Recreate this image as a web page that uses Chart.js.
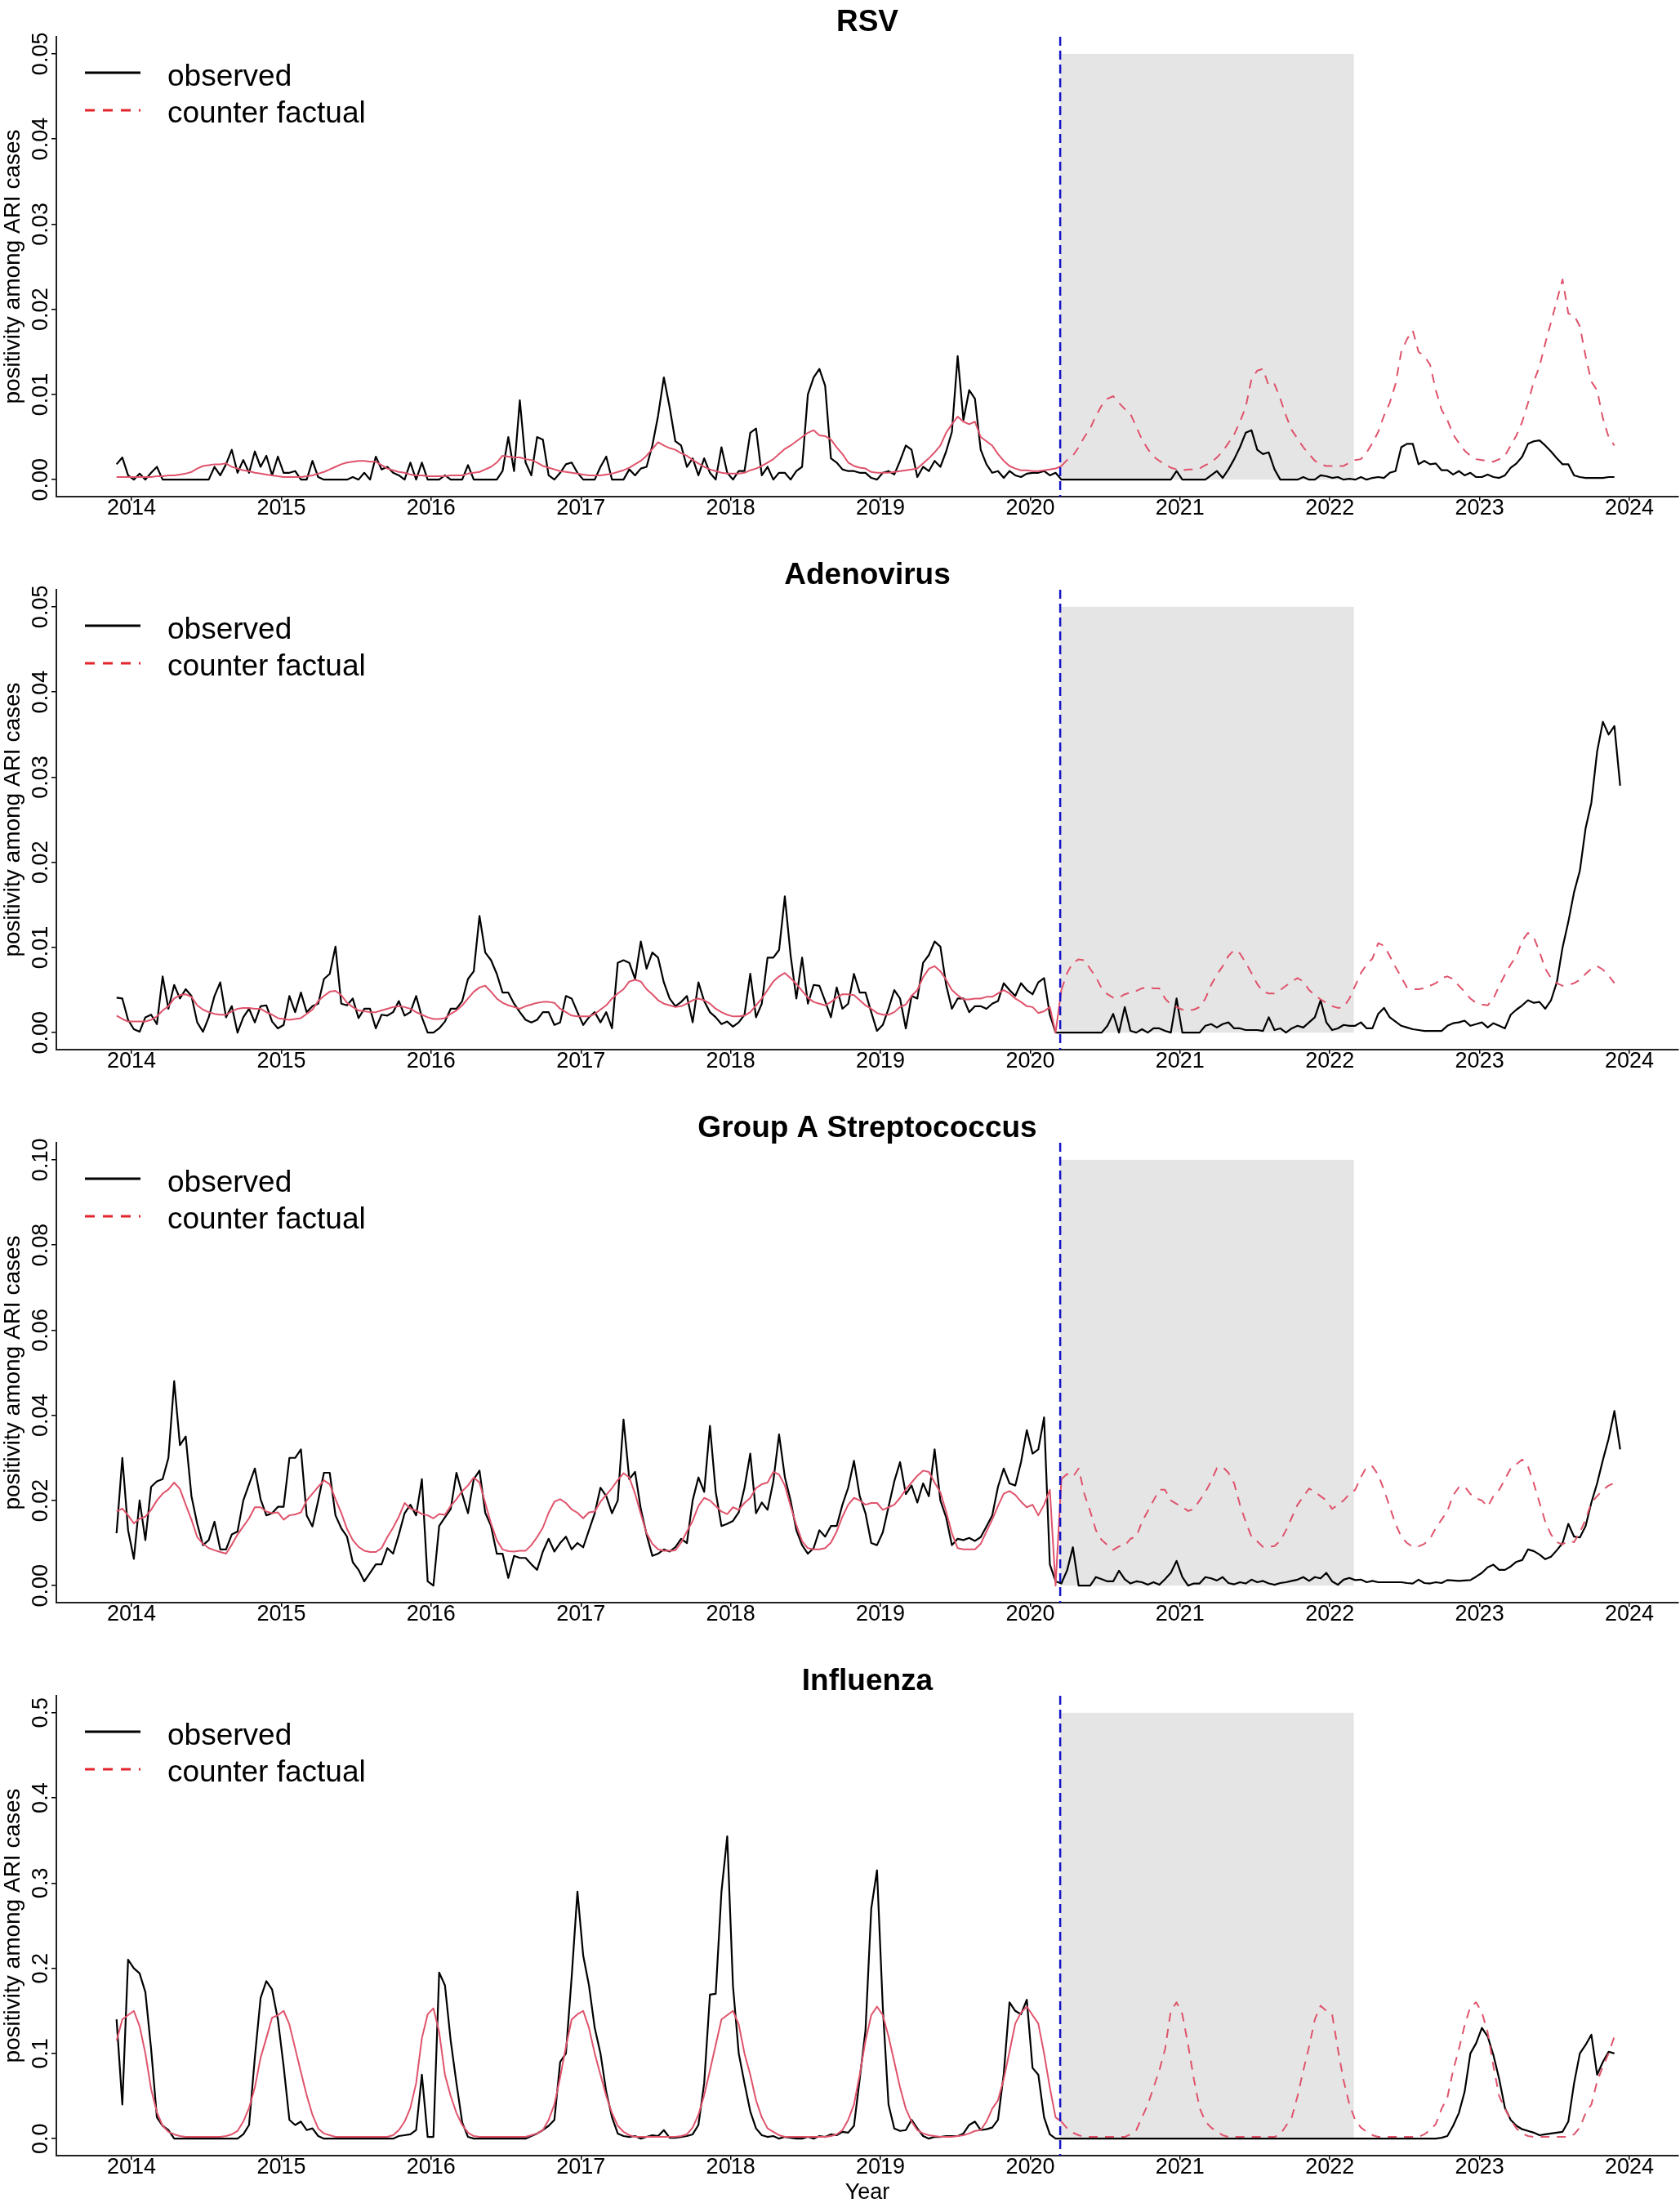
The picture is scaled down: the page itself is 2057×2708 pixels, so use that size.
<!DOCTYPE html>
<html>
<head>
<meta charset="utf-8">
<script src="https://cdn.jsdelivr.net/npm/chart.js@4.4.1/dist/chart.umd.min.js"></script>
<style>
  html, body { margin: 0; padding: 0; background: #fff; }
  #wrap { width: 2057px; height: 2708px; }
  canvas { display: block; }
</style>
</head>
<body>
<div id="wrap">
  <canvas id="c0" width="2057" height="677"></canvas>
  <canvas id="c1" width="2057" height="677"></canvas>
  <canvas id="c2" width="2057" height="677"></canvas>
  <canvas id="c3" width="2057" height="677"></canvas>
</div>
<script>
const startYear = 2013.9;
const step = 1 / 26;
const interventionStart = 2020.2;
const interventionEnd = 2022.16;
const xTicks = [2014, 2015, 2016, 2017, 2018, 2019, 2020, 2021, 2022, 2023, 2024];

const rsvObserved = [
  0.0018,0.0026,0.0005,0,0.0007,0,0.0008,0.0015,0,0,0,0,0,0,0,0,0,0.0015,0.0005,0.0018,0.0035,0.0008,0.0023,0.0008,0.0033,0.0015,
  0.0028,0.0005,0.0027,0.0008,0.0008,0.0010,0,0,0.0022,0.0003,0,0,0,0,0,0.0003,0,0.0008,0,0.0027,0.0012,0.0015,0.0008,0.0005,0,0.0020,
  0,0.0020,0,0,0,0.0005,0,0,0,0.0017,0,0,0,0,0,0.0010,0.0050,0.0010,0.0093,0.0020,0.0005,0.0050,0.0047,0.0005,0,0.0008,
  0.0018,0.0020,0.0008,0,0,0,0.0015,0.0027,0,0,0,0.0012,0.0005,0.0013,0.0015,0.0040,0.0075,0.0120,0.0085,0.0045,0.0040,0.0015,0.0025,0.0005,0.0025,0.0008,
  0,0.0038,0.0008,0,0.0010,0.0010,0.0055,0.0060,0.0005,0.0015,0,0.0008,0.0008,0,0.0010,0.0015,0.0100,0.0120,0.0130,0.0110,0.0025,0.0020,0.0012,0.0010,0.0010,0.0008,
  0.0008,0.0002,0,0.0008,0.0010,0.0006,0.0022,0.0040,0.0035,0.0003,0.0015,0.0010,0.0022,0.0015,0.0033,0.0056,0.0145,0.0070,0.0105,0.0095,0.0035,0.0018,0.0008,0.0010,0.0002,0.0010,
  0.0005,0.0003,0.0007,0.0008,0.0008,0.0010,0.0005,0.0008,0,0,0,0,0,0,0,0,0,0,0,0,0,0,0,0,0,0,
  0,0,0.0010,0,0,0,0,0,0.0005,0.0010,0.0002,0.0012,0.0024,0.0038,0.0055,0.0058,0.0035,0.0030,0.0032,0.0012,0,0,0,0,0.0003,0,
  0,0.0005,0.0004,0.0002,0.0003,0,0.0001,0,0.0003,0,0.0002,0.0003,0.0002,0.0008,0.0010,0.0038,0.0042,0.0042,0.0018,0.0022,0.0018,0.0019,0.0011,0.0011,0.0006,0.0010,
  0.0005,0.0008,0.0003,0.0003,0.0006,0.0003,0.0002,0.0005,0.0014,0.0019,0.0027,0.0042,0.0045,0.0046,0.0040,0.0033,0.0025,0.0018,0.0018,0.0005,0.0003,0.0002,0.0002,0.0002,0.0002,0.0003,
  0.0003
];
const rsvCounterfactual = [
  0.0003,0.0003,0.0003,0.0003,0.0003,0.0003,0.0003,0.0004,0.0004,0.0005,0.0005,0.0006,0.0007,0.0009,0.0013,0.0016,0.0017,0.0018,0.0018,0.0019,0.0015,0.0013,0.0011,0.0010,0.0008,0.0007,
  0.0006,0.0005,0.0004,0.0003,0.0003,0.0003,0.0003,0.0004,0.0005,0.0007,0.0009,0.0012,0.0015,0.0018,0.0020,0.0021,0.0022,0.0022,0.0021,0.0021,0.0017,0.0013,0.0011,0.0009,0.0008,0.0006,
  0.0005,0.0005,0.0004,0.0004,0.0004,0.0004,0.0005,0.0005,0.0005,0.0007,0.0008,0.0009,0.0012,0.0015,0.0020,0.0028,0.0027,0.0026,0.0026,0.0024,0.0023,0.0020,0.0016,0.0014,0.0012,0.0010,
  0.0009,0.0008,0.0007,0.0006,0.0005,0.0005,0.0005,0.0006,0.0007,0.0009,0.0011,0.0014,0.0018,0.0022,0.0028,0.0036,0.0044,0.0040,0.0037,0.0035,0.0031,0.0028,0.0023,0.0019,0.0015,0.0012,
  0.0010,0.0008,0.0007,0.0007,0.0007,0.0008,0.0011,0.0013,0.0016,0.0020,0.0024,0.0030,0.0036,0.0040,0.0045,0.0050,0.0055,0.0058,0.0052,0.0051,0.0047,0.0038,0.0030,0.0020,0.0016,0.0014,
  0.0013,0.0009,0.0008,0.0008,0.0008,0.0009,0.0010,0.0011,0.0012,0.0013,0.0019,0.0025,0.0032,0.0040,0.0055,0.0065,0.0074,0.0068,0.0065,0.0068,0.0050,0.0045,0.0040,0.0030,0.0022,0.0016,
  0.0013,0.0011,0.0011,0.0010,0.0010,0.0011,0.0012,0.0013,0.0016,0.0023,0.0028,0.0038,0.0050,0.0060,0.0075,0.0087,0.0095,0.0098,0.0090,0.0083,0.0077,0.0062,0.0047,0.0036,0.0027,0.0022,
  0.0018,0.0014,0.0012,0.0011,0.0012,0.0012,0.0013,0.0017,0.0020,0.0026,0.0033,0.0043,0.0053,0.0068,0.0085,0.0118,0.0128,0.0130,0.0110,0.0112,0.0095,0.0075,0.0058,0.0048,0.0038,0.0030,
  0.0022,0.0018,0.0016,0.0016,0.0016,0.0016,0.0020,0.0023,0.0024,0.0032,0.0043,0.0056,0.0075,0.0090,0.0112,0.0150,0.0165,0.0175,0.0150,0.0145,0.0135,0.0105,0.0082,0.0070,0.0053,0.0043,
  0.0034,0.0028,0.0024,0.0023,0.0022,0.0021,0.0024,0.0028,0.0040,0.0052,0.0068,0.0090,0.0115,0.0133,0.0160,0.0185,0.0210,0.0235,0.0195,0.0193,0.0180,0.0145,0.0115,0.0105,0.0072,0.0050,
  0.0040
];

const adenoObserved = [
  0.0041,0.0040,0.0015,0.0004,0.0001,0.0018,0.0021,0.0010,0.0066,0.0028,0.0056,0.0040,0.0051,0.0043,0.0012,0.0001,0.0018,0.0043,0.0059,0.0018,0.0031,0,0.0018,0.0028,0.0012,0.0031,
  0.0032,0.0013,0.0005,0.0009,0.0043,0.0024,0.0047,0.0024,0.0031,0.0034,0.0063,0.0069,0.0101,0.0034,0.0032,0.0040,0.0017,0.0028,0.0028,0.0005,0.0021,0.0020,0.0024,0.0037,0.0020,0.0024,
  0.0043,0.0018,0,0,0.0005,0.0013,0.0028,0.0028,0.0037,0.0063,0.0072,0.0137,0.0094,0.0085,0.0069,0.0047,0.0047,0.0034,0.0024,0.0015,0.0012,0.0015,0.0024,0.0024,0.0009,0.0012,
  0.0043,0.0040,0.0024,0.0009,0.0018,0.0024,0.0012,0.0024,0.0005,0.0082,0.0085,0.0082,0.0063,0.0107,0.0075,0.0094,0.0088,0.0059,0.0040,0.0031,0.0036,0.0043,0.0012,0.0059,0.0037,0.0024,
  0.0018,0.0010,0.0013,0.0007,0.0012,0.0021,0.0069,0.0018,0.0034,0.0088,0.0088,0.0097,0.0160,0.0091,0.0040,0.0088,0.0034,0.0056,0.0055,0.0037,0.0018,0.0053,0.0028,0.0034,0.0069,0.0047,
  0.0047,0.0024,0.0002,0.0009,0.0028,0.0050,0.0040,0.0005,0.0043,0.0040,0.0082,0.0091,0.0107,0.0101,0.0056,0.0028,0.0040,0.0040,0.0024,0.0031,0.0031,0.0028,0.0034,0.0037,0.0058,0.0050,
  0.0043,0.0058,0.0050,0.0045,0.0059,0.0064,0.0021,0,0,0,0,0,0,0,0,0,0.0008,0.0022,0,0.0030,0.0002,0,0.0004,0,0.0005,0.0005,
  0.0002,0,0.0040,0,0,0,0,0.0008,0.0010,0.0006,0.0010,0.0012,0.0005,0.0005,0.0003,0.0003,0.0003,0.0002,0.0018,0.0003,0.0005,0,0.0005,0.0008,0.0006,0.0012,
  0.0018,0.0038,0.0012,0.0003,0.0005,0.0009,0.0008,0.0008,0.0012,0.0005,0.0005,0.0022,0.0029,0.0018,0.0013,0.0008,0.0006,0.0004,0.0003,0.0002,0.0002,0.0002,0.0002,0.0008,0.0011,0.0012,
  0.0014,0.0008,0.0010,0.0012,0.0006,0.0011,0.0008,0.0005,0.0021,0.0027,0.0032,0.0038,0.0035,0.0036,0.0028,0.0038,0.0059,0.0100,0.0130,0.0165,0.0190,0.0240,0.0270,0.0330,0.0365,0.0350,
  0.0360,0.0290
];
const adenoCounterfactual = [
  0.0020,0.0016,0.0013,0.0013,0.0013,0.0013,0.0015,0.0019,0.0026,0.0031,0.0040,0.0044,0.0045,0.0042,0.0032,0.0027,0.0024,0.0022,0.0021,0.0021,0.0025,0.0028,0.0029,0.0029,0.0028,0.0028,
  0.0024,0.0021,0.0017,0.0016,0.0015,0.0016,0.0017,0.0022,0.0027,0.0037,0.0043,0.0048,0.0049,0.0044,0.0035,0.0030,0.0026,0.0025,0.0024,0.0024,0.0026,0.0028,0.0030,0.0031,0.0030,0.0028,
  0.0024,0.0021,0.0018,0.0016,0.0016,0.0017,0.0022,0.0026,0.0032,0.0040,0.0048,0.0053,0.0055,0.0048,0.0040,0.0035,0.0032,0.0030,0.0028,0.0031,0.0033,0.0035,0.0036,0.0036,0.0035,0.0028,
  0.0024,0.0020,0.0019,0.0019,0.0019,0.0022,0.0027,0.0032,0.0040,0.0046,0.0051,0.0060,0.0062,0.0060,0.0051,0.0045,0.0038,0.0034,0.0032,0.0030,0.0031,0.0034,0.0038,0.0040,0.0038,0.0034,
  0.0028,0.0024,0.0021,0.0019,0.0019,0.0020,0.0024,0.0032,0.0040,0.0050,0.0060,0.0066,0.0070,0.0064,0.0057,0.0049,0.0041,0.0036,0.0034,0.0032,0.0036,0.0041,0.0045,0.0045,0.0044,0.0038,
  0.0032,0.0028,0.0023,0.0021,0.0021,0.0024,0.0030,0.0033,0.0043,0.0050,0.0065,0.0075,0.0078,0.0072,0.0062,0.0050,0.0044,0.0039,0.0039,0.0040,0.0040,0.0042,0.0042,0.0046,0.0050,0.0046,
  0.0040,0.0036,0.0031,0.0030,0.0023,0.0025,0.0030,0,0.0050,0.0070,0.0082,0.0086,0.0085,0.0075,0.0065,0.0052,0.0045,0.0041,0.0041,0.0045,0.0047,0.0049,0.0052,0.0053,0.0052,0.0052,
  0.0040,0.0033,0.0030,0.0027,0.0026,0.0027,0.0030,0.0040,0.0056,0.0068,0.0078,0.0090,0.0097,0.0093,0.0082,0.0070,0.0057,0.0048,0.0046,0.0046,0.0050,0.0055,0.0060,0.0064,0.0060,0.0050,
  0.0044,0.0039,0.0035,0.0031,0.0029,0.0030,0.0040,0.0055,0.0070,0.0080,0.0087,0.0105,0.0102,0.0090,0.0077,0.0065,0.0053,0.0051,0.0051,0.0052,0.0055,0.0058,0.0064,0.0066,0.0063,0.0055,
  0.0048,0.0040,0.0035,0.0033,0.0032,0.0040,0.0055,0.0068,0.0080,0.0090,0.0108,0.0117,0.0112,0.0095,0.0075,0.0064,0.0058,0.0055,0.0056,0.0058,0.0062,0.0069,0.0075,0.0078,0.0074,0.0067,
  0.0058
];

const gasObserved = [
  0.0123,0.0300,0.0130,0.0063,0.0200,0.0107,0.0232,0.0245,0.0250,0.0300,0.0480,0.0330,0.0350,0.0210,0.0145,0.0095,0.0107,0.0150,0.0085,0.0085,0.0120,0.0127,0.0200,0.0238,0.0275,0.0203,
  0.0165,0.0170,0.0185,0.0185,0.0300,0.0300,0.0320,0.0165,0.0139,0.0200,0.0265,0.0265,0.0165,0.0135,0.0115,0.0055,0.0037,0.0010,0.0030,0.0050,0.0050,0.0088,0.0075,0.0120,0.0170,0.0190,
  0.0165,0.0250,0.0010,0,0.0140,0.0160,0.0180,0.0265,0.0215,0.0170,0.0250,0.0270,0.0171,0.0140,0.0075,0.0075,0.0018,0.0070,0.0065,0.0065,0.0050,0.0037,0.0080,0.0110,0.0080,0.0100,
  0.0115,0.0085,0.0100,0.0090,0.0130,0.0170,0.0230,0.0210,0.0170,0.0200,0.0390,0.0250,0.0267,0.0180,0.0120,0.0070,0.0075,0.0085,0.0080,0.0090,0.0110,0.0100,0.0200,0.0254,0.0220,0.0375,
  0.0220,0.0140,0.0145,0.0152,0.0172,0.0230,0.0310,0.0170,0.0195,0.0178,0.0245,0.0355,0.0255,0.0200,0.0130,0.0095,0.0075,0.0088,0.0130,0.0115,0.0140,0.0140,0.0190,0.0230,0.0293,0.0210,
  0.0170,0.0100,0.0095,0.0125,0.0185,0.0245,0.0290,0.0215,0.0235,0.0195,0.0240,0.0210,0.0320,0.0200,0.0160,0.0095,0.0110,0.0107,0.0112,0.0105,0.0114,0.0139,0.0165,0.0232,0.0275,0.0240,
  0.0235,0.0290,0.0365,0.0310,0.0320,0.0395,0.0050,0.0010,0.0005,0.0036,0.0090,0,0,0,0.0020,0.0015,0.0010,0.0010,0.0035,0.0015,0.0005,0.0010,0.0008,0.0002,0.0008,0.0002,
  0.0015,0.0030,0.0058,0.0020,0,0.0005,0.0005,0.0020,0.0017,0.0012,0.0020,0.0006,0.0003,0.0008,0.0005,0.0014,0.0008,0.0011,0.0005,0.0002,0.0006,0.0008,0.0011,0.0014,0.0020,0.0011,
  0.0020,0.0017,0.0030,0.0010,0.0002,0.0014,0.0018,0.0013,0.0014,0.0008,0.0011,0.0008,0.0008,0.0008,0.0008,0.0008,0.0006,0.0005,0.0014,0.0006,0.0005,0.0008,0.0006,0.0013,0.0012,0.0011,
  0.0012,0.0013,0.0021,0.0030,0.0043,0.0049,0.0037,0.0037,0.0045,0.0056,0.0060,0.0085,0.0081,0.0073,0.0062,0.0068,0.0083,0.0100,0.0145,0.0115,0.0113,0.0140,0.0195,0.0240,0.0295,0.0345,
  0.0410,0.0320
];
const gasCounterfactual = [
  0.0174,0.0181,0.0165,0.0146,0.0157,0.0162,0.0178,0.0200,0.0216,0.0226,0.0242,0.0227,0.0190,0.0155,0.0114,0.0098,0.0088,0.0083,0.0079,0.0075,0.0096,0.0120,0.0139,0.0158,0.0184,0.0184,
  0.0174,0.0170,0.0172,0.0155,0.0165,0.0167,0.0172,0.0200,0.0216,0.0232,0.0247,0.0238,0.0203,0.0171,0.0133,0.0107,0.0091,0.0082,0.0079,0.0079,0.0088,0.0114,0.0136,0.0162,0.0194,0.0181,
  0.0176,0.0168,0.0165,0.0158,0.0168,0.0166,0.0187,0.0203,0.0222,0.0235,0.0254,0.0242,0.0194,0.0146,0.0107,0.0085,0.0081,0.0080,0.0082,0.0082,0.0095,0.0114,0.0136,0.0171,0.0197,0.0203,
  0.0194,0.0179,0.0171,0.0158,0.0172,0.0174,0.0197,0.0213,0.0229,0.0248,0.0264,0.0254,0.0216,0.0168,0.0123,0.0098,0.0085,0.0082,0.0082,0.0083,0.0101,0.0127,0.0152,0.0187,0.0206,0.0200,
  0.0187,0.0174,0.0168,0.0184,0.0178,0.0194,0.0206,0.0229,0.0238,0.0242,0.0267,0.0261,0.0235,0.0187,0.0142,0.0104,0.0088,0.0085,0.0085,0.0088,0.0101,0.0127,0.0162,0.0190,0.0206,0.0200,
  0.0190,0.0194,0.0194,0.0178,0.0184,0.0190,0.0206,0.0226,0.0242,0.0258,0.0270,0.0267,0.0242,0.0219,0.0174,0.0123,0.0088,0.0085,0.0085,0.0085,0.0098,0.0127,0.0155,0.0187,0.0216,0.0222,
  0.0213,0.0197,0.0184,0.0190,0.0165,0.0190,0.0225,0,0.0250,0.0262,0.0255,0.0275,0.0215,0.0175,0.0130,0.0107,0.0095,0.0084,0.0092,0.0094,0.0110,0.0115,0.0150,0.0175,0.0200,0.0225,
  0.0225,0.0200,0.0192,0.0185,0.0175,0.0180,0.0200,0.0220,0.0245,0.0276,0.0279,0.0265,0.0240,0.0190,0.0150,0.0115,0.0104,0.0091,0.0091,0.0093,0.0105,0.0130,0.0160,0.0190,0.0209,0.0228,
  0.0220,0.0210,0.0200,0.0180,0.0190,0.0200,0.0215,0.0225,0.0255,0.0279,0.0280,0.0260,0.0225,0.0185,0.0145,0.0115,0.0100,0.0091,0.0092,0.0098,0.0110,0.0135,0.0155,0.0175,0.0212,0.0231,
  0.0233,0.0215,0.0205,0.0200,0.0185,0.0210,0.0225,0.0250,0.0275,0.0285,0.0296,0.0280,0.0240,0.0195,0.0150,0.0120,0.0102,0.0097,0.0105,0.0102,0.0125,0.0155,0.0195,0.0210,0.0225,0.0235,
  0.0241
];

const fluObserved = [
  0.140,0.040,0.210,0.200,0.194,0.172,0.105,0.025,0.015,0.010,0,0,0,0,0,0,0,0,0,0,0,0,0.005,0.016,0.095,0.165,
  0.185,0.175,0.140,0.085,0.022,0.016,0.020,0.010,0.012,0.003,0,0,0,0,0,0,0,0,0,0,0,0,0,0.003,0.004,0.005,
  0.010,0.075,0.002,0.002,0.195,0.180,0.115,0.065,0.019,0.002,0,0,0,0,0,0,0,0,0,0,0.003,0.006,0.010,0.015,0.022,0.090,
  0.100,0.190,0.290,0.215,0.180,0.130,0.100,0.055,0.025,0.006,0.003,0.002,0.003,0,0.002,0.004,0.003,0.010,0.001,0.001,0.002,0.003,0.005,0.016,0.065,0.169,
  0.170,0.290,0.355,0.179,0.100,0.065,0.032,0.012,0.004,0.002,0.003,0,0.002,0.001,0,0,0.002,0,0.003,0.002,0.005,0.004,0.008,0.007,0.015,0.070,
  0.127,0.270,0.315,0.155,0.040,0.012,0.009,0.010,0.022,0.012,0.003,0,0.002,0.002,0.003,0.003,0.003,0.006,0.016,0.020,0.010,0.011,0.013,0.022,0.076,0.160,
  0.150,0.146,0.163,0.083,0.075,0.025,0.005,0,0,0,0,0,0,0,0,0,0,0,0,0,0,0,0,0,0,0,
  0,0,0,0,0,0,0,0,0,0,0,0,0,0,0,0,0,0,0,0,0,0,0,0,0,0,
  0,0,0,0,0,0,0,0,0,0,0,0,0,0,0,0,0,0,0,0,0,0,0.001,0.003,0.015,0.030,
  0.055,0.100,0.112,0.130,0.120,0.098,0.070,0.036,0.022,0.015,0.011,0.009,0.007,0.004,0.005,0.006,0.007,0.008,0.020,0.065,0.100,0.110,0.122,0.075,0.090,0.102,
  0.100
];
const fluCounterfactual = [
  0.115,0.140,0.145,0.150,0.132,0.100,0.058,0.031,0.015,0.008,0.005,0.003,0.002,0.002,0.002,0.002,0.002,0.002,0.002,0.003,0.005,0.009,0.020,0.036,0.060,0.095,
  0.118,0.142,0.145,0.150,0.134,0.106,0.078,0.051,0.028,0.012,0.006,0.004,0.002,0.002,0.002,0.002,0.002,0.002,0.002,0.002,0.002,0.002,0.004,0.010,0.020,0.036,
  0.065,0.118,0.146,0.153,0.125,0.075,0.050,0.030,0.016,0.007,0.003,0.002,0.002,0.002,0.002,0.002,0.002,0.002,0.002,0.002,0.004,0.006,0.010,0.022,0.040,0.072,
  0.108,0.140,0.146,0.150,0.130,0.100,0.075,0.050,0.030,0.015,0.008,0.004,0.002,0.002,0.002,0.002,0.002,0.002,0.002,0.002,0.003,0.005,0.013,0.028,0.051,0.080,
  0.110,0.140,0.145,0.150,0.134,0.100,0.075,0.045,0.025,0.012,0.008,0.004,0.002,0.002,0.002,0.002,0.002,0.002,0.002,0.002,0.003,0.005,0.010,0.022,0.040,0.075,
  0.115,0.145,0.155,0.145,0.120,0.090,0.060,0.035,0.020,0.010,0.006,0.004,0.003,0.002,0.002,0.002,0.003,0.004,0.006,0.009,0.010,0.020,0.035,0.045,0.070,0.102,
  0.135,0.148,0.155,0.145,0.135,0.100,0.060,0.025,0.020,0.012,0.007,0.004,0.002,0.002,0.002,0.002,0.002,0.002,0.002,0.002,0.005,0.010,0.025,0.040,0.060,0.080,
  0.105,0.150,0.160,0.146,0.110,0.070,0.036,0.020,0.013,0.008,0.004,0.002,0.002,0.002,0.002,0.002,0.002,0.002,0.002,0.002,0.005,0.015,0.025,0.050,0.080,0.108,
  0.140,0.156,0.150,0.146,0.105,0.068,0.040,0.022,0.013,0.008,0.004,0.002,0.002,0.002,0.002,0.002,0.002,0.002,0.002,0.005,0.010,0.017,0.035,0.048,0.080,0.105,
  0.133,0.155,0.160,0.148,0.125,0.085,0.050,0.035,0.022,0.012,0.006,0.003,0.002,0.002,0.002,0.002,0.002,0.002,0.002,0.005,0.013,0.030,0.040,0.067,0.085,0.100,
  0.120
];

const rsvYTicks = [0, 0.01, 0.02, 0.03, 0.04, 0.05];
const rsvYLabels = ['0.00', '0.01', '0.02', '0.03', '0.04', '0.05'];
const gasYTicks = [0, 0.02, 0.04, 0.06, 0.08, 0.10];
const gasYLabels = ['0.00', '0.02', '0.04', '0.06', '0.08', '0.10'];
const fluYTicks = [0, 0.1, 0.2, 0.3, 0.4, 0.5];
const fluYLabels = ['0.0', '0.1', '0.2', '0.3', '0.4', '0.5'];

const FONT = '"Liberation Sans", Arial, Helvetica, sans-serif';
const CF_COLOR = '#DF536B';
const LEGEND_RED = '#E3242B';

const toPoints = arr => arr.map((v, i) => ({ x: startYear + i * step, y: v }));

// shaded intervention period, cut-off line, titles, y labels and legend
const decor = {
  id: 'decor',
  beforeDatasetsDraw(chart, args, o) {
    const { ctx, scales: { x, y } } = chart;
    const xa = x.getPixelForValue(interventionStart);
    const xb = x.getPixelForValue(interventionEnd);
    const ya = y.getPixelForValue(o.shadeTop);
    const yb = y.getPixelForValue(0);
    ctx.save();
    ctx.fillStyle = '#E5E5E5';
    ctx.fillRect(xa, ya, xb - xa, yb - ya);
    ctx.restore();
  },
  afterDatasetsDraw(chart) {
    const { ctx, chartArea: a, scales: { x } } = chart;
    const xv = x.getPixelForValue(interventionStart);
    ctx.save();
    ctx.strokeStyle = '#1515C8';
    ctx.lineWidth = 2.5;
    ctx.setLineDash([11, 6]);
    ctx.beginPath();
    ctx.moveTo(xv, a.top);
    ctx.lineTo(xv, a.bottom);
    ctx.stroke();
    ctx.restore();
  },
  afterDraw(chart, args, o) {
    const { ctx, chartArea: a, scales: { y } } = chart;
    ctx.save();
    ctx.fillStyle = '#000';
    ctx.textBaseline = 'alphabetic';

    ctx.font = 'bold 37px ' + FONT;
    ctx.textAlign = 'center';
    ctx.fillText(o.title, (a.left + a.right) / 2, 38);

    ctx.font = '27px ' + FONT;
    o.ticks.forEach((t, k) => {
      ctx.save();
      ctx.translate(58, y.getPixelForValue(t));
      ctx.rotate(-Math.PI / 2);
      ctx.fillText(o.labels[k], 0, 0);
      ctx.restore();
    });

    ctx.font = '28px ' + FONT;
    ctx.save();
    ctx.translate(24, (a.top + a.bottom) / 2);
    ctx.rotate(-Math.PI / 2);
    ctx.fillText('positivity among ARI cases', 0, 0);
    ctx.restore();

    // legend
    ctx.lineWidth = 3;
    ctx.strokeStyle = '#000';
    ctx.beginPath(); ctx.moveTo(104, 89); ctx.lineTo(172, 89); ctx.stroke();
    ctx.strokeStyle = LEGEND_RED;
    ctx.setLineDash([12, 10]);
    ctx.beginPath(); ctx.moveTo(104, 135); ctx.lineTo(172, 135); ctx.stroke();
    ctx.setLineDash([]);
    ctx.font = '37px ' + FONT;
    ctx.textAlign = 'left';
    ctx.fillText('observed', 205, 105);
    ctx.fillText('counter factual', 205, 150);
    ctx.restore();
  }
};

const panels = [
  { id: 'c0', title: 'RSV', obs: rsvObserved, cf: rsvCounterfactual, min: -0.002, max: 0.052, ticks: rsvYTicks, labels: rsvYLabels },
  { id: 'c1', title: 'Adenovirus', obs: adenoObserved, cf: adenoCounterfactual, min: -0.002, max: 0.052, ticks: rsvYTicks, labels: rsvYLabels },
  { id: 'c2', title: 'Group A Streptococcus', obs: gasObserved, cf: gasCounterfactual, min: -0.004, max: 0.104, ticks: gasYTicks, labels: gasYLabels },
  { id: 'c3', title: 'Influenza', obs: fluObserved, cf: fluCounterfactual, min: -0.02, max: 0.52, ticks: fluYTicks, labels: fluYLabels, xTitle: 'Year' }
];

panels.forEach(p => {
  new Chart(document.getElementById(p.id), {
    type: 'line',
    data: {
      datasets: [
        {
          label: 'counter factual',
          data: toPoints(p.cf),
          borderColor: CF_COLOR,
          borderWidth: 2,
          pointRadius: 0,
          tension: 0,
          borderJoinStyle: 'round',
          segment: {
            borderDash: ctx => ctx.p0.parsed.x > interventionStart - 0.02 ? [11, 9] : undefined
          }
        },
        {
          label: 'observed',
          data: toPoints(p.obs),
          borderColor: '#000',
          borderWidth: 2.2,
          pointRadius: 0,
          tension: 0,
          borderJoinStyle: 'round'
        }
      ]
    },
    options: {
      responsive: false,
      animation: false,
      devicePixelRatio: 1,
      layout: { padding: { top: 45, left: 0, right: 2, bottom: 0 } },
      plugins: {
        legend: { display: false },
        tooltip: { enabled: false },
        decor: { title: p.title, ticks: p.ticks, labels: p.labels, shadeTop: p.ticks[p.ticks.length - 1] }
      },
      scales: {
        x: {
          type: 'linear',
          min: 2013.498,
          max: 2024.327,
          afterBuildTicks: s => { s.ticks = xTicks.map(v => ({ value: v })); },
          afterFit: s => { s.height = 69; },
          grid: { drawOnChartArea: false, drawTicks: true, tickLength: 5, color: '#000', lineWidth: 1.5 },
          border: { display: true, color: '#222', width: 2 },
          ticks: {
            autoSkip: false, maxRotation: 0, padding: -4, color: '#000',
            font: { family: FONT, size: 27, lineHeight: 1 },
            callback: v => String(v)
          },
          title: {
            display: !!p.xTitle, text: p.xTitle || '', color: '#000',
            font: { family: FONT, size: 27 }, padding: { top: 0, bottom: 7 }
          }
        },
        y: {
          type: 'linear',
          min: p.min,
          max: p.max,
          afterBuildTicks: s => { s.ticks = p.ticks.map(v => ({ value: v })); },
          afterFit: s => { s.width = 69; },
          grid: { drawOnChartArea: false, drawTicks: true, tickLength: 6, color: '#000', lineWidth: 1.5 },
          border: { display: true, color: '#222', width: 2 },
          ticks: { display: false }
        }
      }
    },
    plugins: [decor]
  });
});
</script>
</body>
</html>
